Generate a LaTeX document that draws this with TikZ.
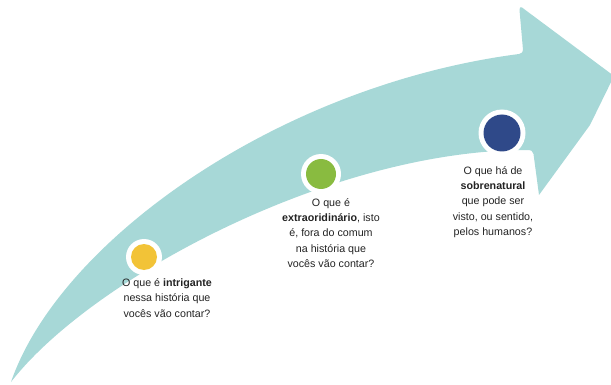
\documentclass[tikz,border=0pt]{standalone}
\usepackage{fontspec}
\setmainfont{Liberation Sans}
\definecolor{arrowteal}{RGB}{167,216,215}
\definecolor{dotyellow}{RGB}{242,195,55}
\definecolor{dotgreen}{RGB}{137,187,64}
\definecolor{dotblue}{RGB}{47,73,137}
\definecolor{txt}{RGB}{35,35,35}
\tikzset{
  ring/.style={circle, fill=white, inner sep=0pt, minimum size=#1},
  dot/.style={circle, inner sep=0pt, minimum size=#1},
  qtext/.style={align=center, text=txt, inner sep=0pt, font=\fontsize{10.7}{15.2}\selectfont}
}
\begin{document}
\begin{tikzpicture}[x=1pt,y=-1pt]
\useasboundingbox (0,0) rectangle (611,385);
\clip (0,0) rectangle (611,385);
% arrow
\fill[arrowteal]
  (11,382) .. controls (60,240) and (280,85) .. (519,54)
  .. controls (522,53.5) and (523,52) .. (523,50)
  -- (519.5,10) .. controls (519.3,7.5) and (520.5,6.5) .. (522,7.5)
  -- (614,76) -- (590,125) -- (539,195)
  -- (533.5,154) .. controls (533.2,151) and (531,150) .. (527,150)
  .. controls (330,150) and (90,280) .. (11,382)
  -- cycle;
% dots
\node[ring=36pt] (ry) at (144,257) {};
\node[dot=26pt, fill=dotyellow] (y) at (ry) {};
\node[ring=40pt] (rg) at (321,174) {};
\node[dot=30pt, fill=dotgreen] (g) at (rg) {};
\node[ring=47pt] (rb) at (502,133) {};
\node[dot=37pt, fill=dotblue] (b) at (rb) {};
% texts
\node[qtext] (ty) at (167,298) {O que é \textbf{intrigante}\\nessa história que\\vocês vão contar?};
\node[qtext] (tg) at (331,233) {O que é\\\textbf{extraoridinário}, isto\\é, fora do comum\\na história que\\vocês vão contar?};
\node[qtext] (tb) at (493,202) {O que há de\\\textbf{sobrenatural}\\que pode ser\\visto, ou sentido,\\pelos humanos?};
\end{tikzpicture}
\end{document}
